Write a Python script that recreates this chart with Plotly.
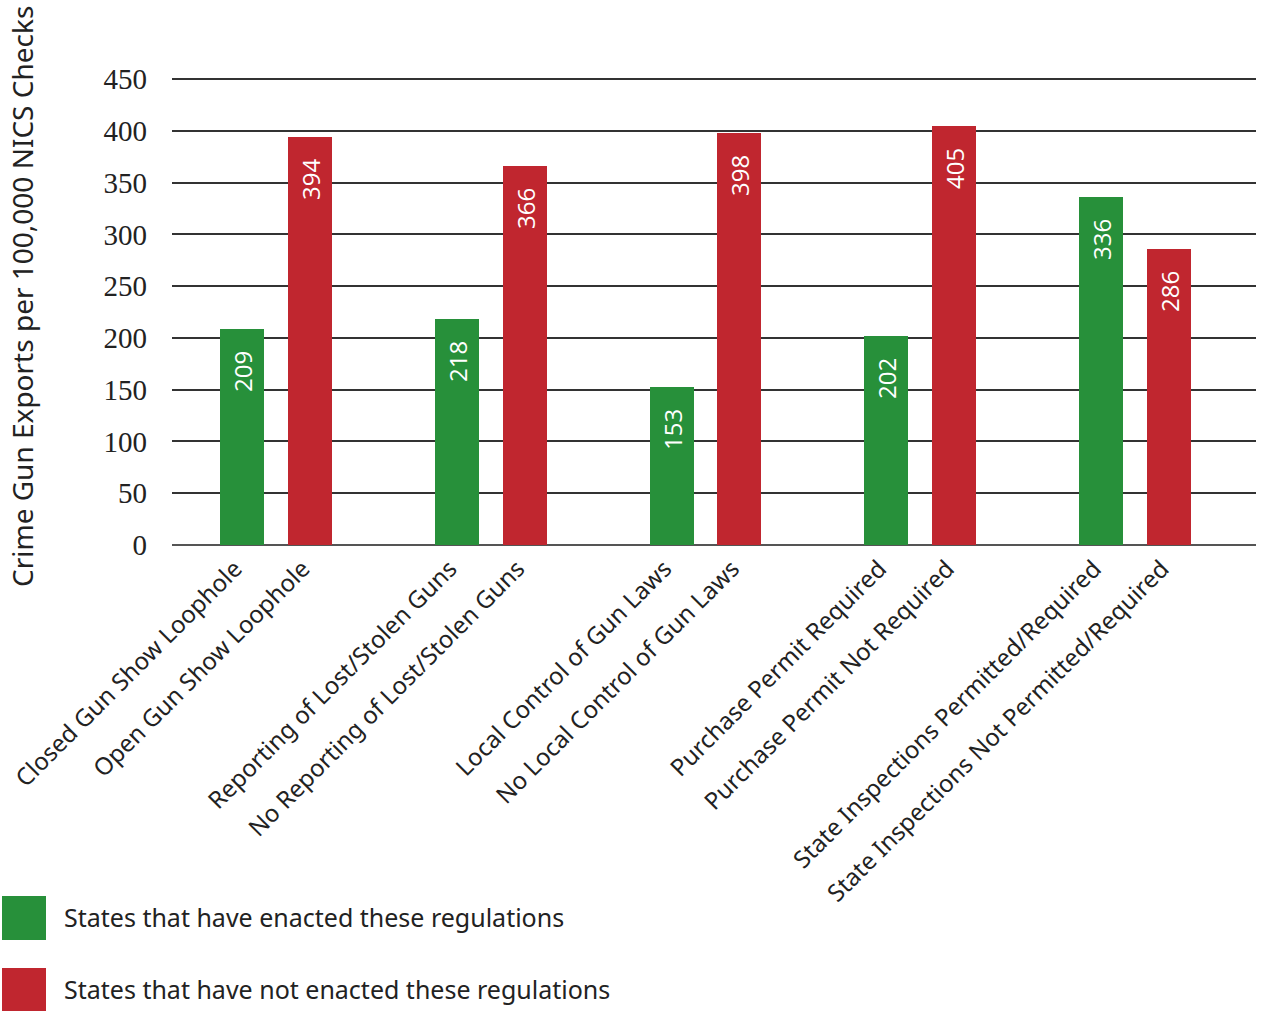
import plotly.graph_objects as go

# Paired comparisons: states with vs. without each regulation
enacted_labels = [
    "Closed Gun Show Loophole",
    "Reporting of Lost/Stolen Guns",
    "Local Control of Gun Laws",
    "Purchase Permit Required",
    "State Inspections Permitted/Required",
]
not_enacted_labels = [
    "Open Gun Show Loophole",
    "No Reporting of Lost/Stolen Guns",
    "No Local Control of Gun Laws",
    "Purchase Permit Not Required",
    "State Inspections Not Permitted/Required",
]
enacted_values = [209, 218, 153, 202, 336]
not_enacted_values = [394, 366, 398, 405, 286]

enacted_name = "States that have enacted these regulations"
not_enacted_name = "States that have not enacted these regulations"

y_ticks = [0, 50, 100, 150, 200, 250, 300, 350, 400, 450]
y_title = "Crime Gun Exports per 100,000 NICS Checks"

GREEN = "#27903A"
RED = "#C0262F"

W, H = 1261, 1011
ML, MR, MT, MB = 172, 5, 78, 466
PW, PH = W - ML - MR, H - MT - MB

def px_x(p):
    return (p - ML) / PW

def px_y(p):
    return (H - MB - p) / PH

offset = 0.158
bar_w = 0.205
groups = list(range(len(enacted_values)))
x_green = [g - offset for g in groups]
x_red = [g + offset for g in groups]

pad = "\u00a0\u00a0\u00a0"
text_font = dict(family="Open Sans, Noto Sans, sans-serif", size=24, color="white")

fig = go.Figure()
fig.add_trace(go.Bar(
    x=x_green, y=enacted_values, width=bar_w, name=enacted_name,
    marker=dict(color=GREEN, line=dict(width=0)),
    text=[f"{v}{pad}" for v in enacted_values],
    textposition="inside", insidetextanchor="end", textangle=-90,
    insidetextfont=text_font, constraintext="none",
))
fig.add_trace(go.Bar(
    x=x_red, y=not_enacted_values, width=bar_w, name=not_enacted_name,
    marker=dict(color=RED, line=dict(width=0)),
    text=[f"{v}{pad}" for v in not_enacted_values],
    textposition="inside", insidetextanchor="end", textangle=-90,
    insidetextfont=text_font, constraintext="none",
))

tickvals, ticktext = [], []
for g in groups:
    tickvals += [x_green[g], x_red[g]]
    ticktext += [enacted_labels[g], not_enacted_labels[g]]

fig.update_layout(
    width=W, height=H,
    margin=dict(l=ML, r=MR, t=MT, b=MB),
    paper_bgcolor="white", plot_bgcolor="white",
    showlegend=False,
    bargap=0,
    xaxis=dict(
        range=[-0.484, 4.563], tickvals=tickvals, ticktext=ticktext,
        tickangle=-45, showgrid=False, zeroline=False, showline=False,
        ticks="", ticklabelstandoff=4, ticklabelshift=-7,
        tickfont=dict(family="Noto Sans, sans-serif", size=24, color="#222"),
    ),
    yaxis=dict(
        range=[0, 451], tickvals=y_ticks, ticktext=[str(t) for t in y_ticks],
        showgrid=True, gridcolor="#333", gridwidth=1.5,
        zeroline=True, zerolinecolor="#555", zerolinewidth=2,
        showline=False, ticks="", ticklabelstandoff=24,
        tickfont=dict(family="Liberation Serif, serif", size=29, color="#222"),
    ),
)

# Y-axis title
fig.add_annotation(
    text=y_title, xref="paper", yref="paper",
    x=px_x(22), y=px_y(297), xanchor="center", yanchor="middle",
    textangle=-90, showarrow=False,
    font=dict(family="Noto Sans, sans-serif", size=28, color="#222"),
)

# Legend swatches and labels
for (top, color, name) in [(896, GREEN, enacted_name), (968, RED, not_enacted_name)]:
    fig.add_shape(
        type="rect", xref="paper", yref="paper",
        x0=px_x(2), x1=px_x(46), y0=px_y(top + 44), y1=px_y(top),
        fillcolor=color, line=dict(width=0),
    )
    fig.add_annotation(
        text=name, xref="paper", yref="paper",
        x=px_x(62), y=px_y(top + 21), xanchor="left", yanchor="middle",
        showarrow=False,
        font=dict(family="Noto Sans, sans-serif", size=25, color="#222"),
    )

fig.write_html("out.html")
